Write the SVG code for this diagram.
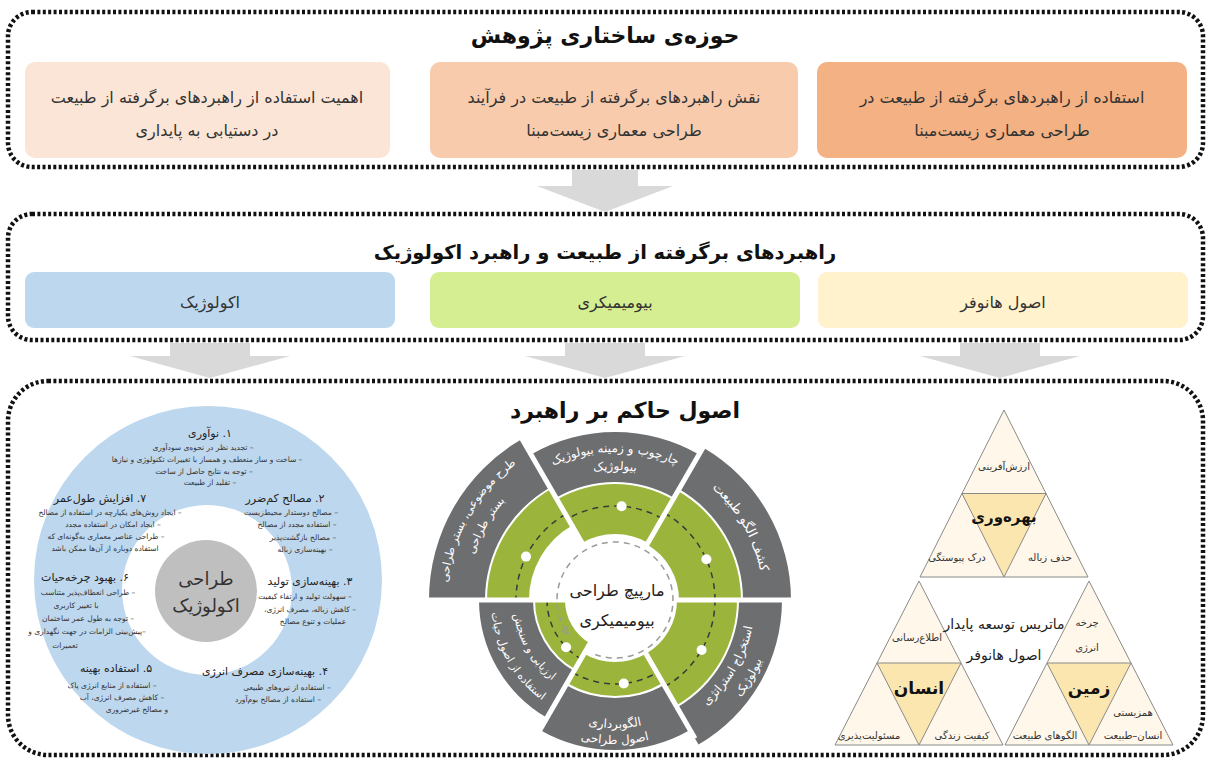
<svg xmlns="http://www.w3.org/2000/svg" width="1209" height="762" viewBox="0 0 1209 762">
<style>
text{font-family:"DejaVu Sans","Noto Sans",sans-serif;direction:rtl;text-anchor:middle;fill:#262626}
.ttl{font-size:22px;font-weight:bold;fill:#111}
.bx{font-size:16px;fill:#333}
.frame{fill:none;stroke:#111;stroke-width:4.5;stroke-dasharray:3 2.4}
.arr{fill:#d9d9d9}
.h{font-size:11px;fill:#222}
.s{font-size:7.5px;fill:#333}
.g{fill:#6d6e70}
.gr{fill:#9bb53c}
.sep{stroke:#fff;stroke-width:5}
.lab{font-size:12px;fill:#fff}
.tri{fill:#fef7ea;stroke:#8a8a8a;stroke-width:1}
.inv{fill:#fce6b0;stroke:#8a8a8a;stroke-width:1}
.tt{font-size:10px;fill:#333}
.tb{font-size:17px;font-weight:bold;fill:#111}
.ctr{font-size:16px;fill:#222}
</style>
<defs>
<marker id="ah" viewBox="0 0 10 10" refX="8" refY="5" markerWidth="6" markerHeight="6" orient="auto"><path d="M1,1 L9,5 L1,9" fill="none" stroke="#9a9a9a" stroke-width="1.5"/></marker>
<path id="pUL1" d="M447,600 A168,168 0 0 1 531,454.5"/>
<path id="pUL2" d="M467,600 A148,148 0 0 1 541,471.8"/>
<path id="pT1" d="M541,471.8 A148,148 0 0 1 689,471.8"/>
<path id="pT2" d="M550,487.4 A130,130 0 0 1 680,487.4"/>
<path id="pUR" d="M689,471.8 A148,148 0 0 1 763,600"/>
<path id="pLR1" d="M685,721.2 A140,140 0 0 0 755,600"/>
<path id="pLR2" d="M694.5,737.7 A159,159 0 0 0 774,600"/>
<path id="pB1" d="M551,710.9 A128,128 0 0 0 679,710.9"/>
<path id="pB2" d="M543,724.7 A144,144 0 0 0 687,724.7"/>
<path id="pLL1" d="M513,600 A102,102 0 0 0 564,688.3"/>
<path id="pLL2" d="M491,600 A124,124 0 0 0 553,707.4"/>
</defs>
<rect width="1209" height="762" fill="#fff"/>

<g id="frame-research">
<rect class="frame" x="8" y="12" width="1195" height="155" rx="24"/>
<text class="ttl" x="605" y="43">حوزه‌ی ساختاری پژوهش</text>
</g>
<g id="box-importance">
<rect x="25" y="62" width="365" height="96" rx="10" fill="#fbe5d6"/>
<text class="bx" x="207" y="103">اهمیت استفاده از راهبردهای برگرفته از طبیعت</text>
<text class="bx" x="207" y="136">در دستیابی به پایداری</text>
</g>
<g id="box-role">
<rect x="430" y="62" width="368" height="96" rx="10" fill="#f8cbad"/>
<text class="bx" x="614" y="103">نقش راهبردهای برگرفته از طبیعت در فرآیند</text>
<text class="bx" x="614" y="136">طراحی معماری زیست‌مبنا</text>
</g>
<g id="box-use">
<rect x="817" y="62" width="370" height="96" rx="10" fill="#f4b183"/>
<text class="bx" x="1002" y="103">استفاده از راهبردهای برگرفته از طبیعت در</text>
<text class="bx" x="1002" y="136">طراحی معماری زیست‌مبنا</text>
</g>

<g id="frame-strategies">
<rect class="frame" x="8" y="214" width="1195" height="126" rx="24"/>
<text class="ttl" x="605" y="259" style="font-size:19.5px">راهبردهای برگرفته از طبیعت و راهبرد اکولوژیک</text>
</g>
<g id="box-ecologic">
<rect x="25" y="272" width="370" height="56" rx="9" fill="#bdd7ee"/>
<text class="bx" x="210" y="308">اکولوژیک</text>
</g>
<g id="box-biomimicry">
<rect x="430" y="272" width="370" height="56" rx="9" fill="#d5ee91"/>
<text class="bx" x="615" y="308">بیومیمیکری</text>
</g>
<g id="box-hannover">
<rect x="818" y="272" width="370" height="56" rx="9" fill="#fff2cc"/>
<text class="bx" x="1003" y="308">اصول هانوفر</text>
</g>

<g id="connectors">
<polygon class="arr" points="572,170 638,170 638,186 673,186 605,212 537,186 572,186"/>
<polygon class="arr" points="170,343 250,343 250,356 290,356 210,378 130,356 170,356"/>
<polygon class="arr" points="565,343 645,343 645,356 685,356 605,378 525,356 565,356"/>
<polygon class="arr" points="960,343 1040,343 1040,356 1080,356 1000,378 920,356 960,356"/>
</g>

<g id="frame-principles">
<rect class="frame" x="8" y="381" width="1195" height="374" rx="40"/>
<text class="ttl" x="625" y="418">اصول حاکم بر راهبرد</text>
</g>

<g id="ecologic-wheel">
<circle cx="208" cy="580" r="174" fill="#bdd7ee"/>
<circle cx="207" cy="590" r="85" fill="#fff"/>
<circle cx="206" cy="591" r="51" fill="#bfbfbf"/>
<text x="206" y="585" style="font-size:18px;fill:#333">طراحی</text>
<text x="206" y="612" style="font-size:18px;fill:#333">اکولوژیک</text>

<text class="h" x="210" y="437">۱. نوآوری</text>
<text class="s" x="203" y="450">– تجدید نظر در نحوه‌ی سودآوری</text>
<text class="s" x="207" y="462">– ساخت و ساز منعطف و همساز با تغییرات تکنولوژی و نیازها</text>
<text class="s" x="204" y="474">– توجه به نتایج حاصل از ساخت</text>
<text class="s" x="210" y="485">– تقلید از طبیعت</text>

<text class="h" x="285" y="502">۲. مصالح کم‌ضرر</text>
<text class="s" x="291" y="515">– مصالح دوستدار محیط‌زیست</text>
<text class="s" x="297" y="527">– استفاده مجدد از مصالح</text>
<text class="s" x="303" y="540">– مصالح بازگشت‌پذیر</text>
<text class="s" x="305" y="552">– بهینه‌سازی زباله</text>

<text class="h" x="310" y="585">۳. بهینه‌سازی تولید</text>
<text class="s" x="305" y="599">– سهولت تولید و ارتقاء کیفیت</text>
<text class="s" x="310" y="612">– کاهش زباله، مصرف انرژی،</text>
<text class="s" x="313" y="624">عملیات و تنوع مصالح</text>

<text class="h" x="265" y="675">۴. بهینه‌سازی مصرف انرژی</text>
<text class="s" x="287" y="690">– استفاده از نیروهای طبیعی</text>
<text class="s" x="278" y="702">– استفاده از مصالح بوم‌آورد</text>

<text class="h" x="116" y="672">۵. استفاده بهینه</text>
<text class="s" x="112" y="688">– استفاده از منابع انرژی پاک</text>
<text class="s" x="122" y="700">– کاهش مصرف انرژی، آب</text>
<text class="s" x="137" y="712">و مصالح غیرضروری</text>

<text class="h" x="85" y="581">۶. بهبود چرخه‌حیات</text>
<text class="s" x="88" y="595">– طراحی انعطاف‌پذیر متناسب</text>
<text class="s" x="76" y="608">با تغییر کاربری</text>
<text class="s" x="88" y="621">– توجه به طول عمر ساختمان</text>
<text class="s" x="87" y="634">–پیش‌بینی الزامات در جهت نگهداری و</text>
<text class="s" x="65" y="648">تعمیرات</text>

<text class="h" x="100" y="502">۷. افزایش طول‌عمر</text>
<text class="s" x="110" y="515">– ایجاد روش‌های یکپارچه در استفاده از مصالح</text>
<text class="s" x="113" y="527">– ایجاد امکان در استفاده  مجدد</text>
<text class="s" x="106" y="539">– طراحی عناصر معماری به‌گونه‌ای که</text>
<text class="s" x="105" y="551">استفاده دوباره از آن‌ها ممکن باشد</text>
</g>

<g id="biomimicry-spiral">
<path class="g" d="M522,438.9 A186,186 0 0 0 429,600 L485,600 A130,130 0 0 1 550,487.4 Z"/>
<path class="g" d="M699,454.5 A168,168 0 0 0 531,454.5 L556,497.8 A118,118 0 0 1 674,497.8 Z"/>
<path class="g" d="M791,600 A176,176 0 0 0 703,447.6 L679,489.1 A128,128 0 0 1 743,600 Z"/>
<path class="g" d="M698.5,744.6 A167,167 0 0 0 782,600 L739,600 A124,124 0 0 1 677,707.4 Z"/>
<path class="g" d="M540,729.9 A150,150 0 0 0 690,729.9 L664,684.9 A98,98 0 0 1 566,684.9 Z"/>
<path class="g" d="M479,600 A136,136 0 0 0 547,717.8 L574,671 A82,82 0 0 1 533,600 Z"/>

<path class="gr" d="M551,489.1 A128,128 0 0 0 487,600 L529,600 A86,86 0 0 1 572,525.5 Z"/>
<path class="gr" d="M673,499.5 A116,116 0 0 0 557,499.5 L582,542.8 A66,66 0 0 1 648,542.8 Z"/>
<path class="gr" d="M741,600 A126,126 0 0 0 678,490.9 L647,544.6 A64,64 0 0 1 679,600 Z"/>
<path class="gr" d="M676,705.7 A122,122 0 0 0 737,600 L677,600 A62,62 0 0 1 646,653.7 Z"/>
<path class="gr" d="M567,683.1 A96,96 0 0 0 663,683.1 L646,653.7 A62,62 0 0 1 584,653.7 Z"/>
<path class="gr" d="M535,600 A80,80 0 0 0 575,669.3 L590,643.3 A50,50 0 0 1 565,600 Z"/>

<g fill="none" stroke="#3a3a3a" stroke-width="1.5" stroke-dasharray="6 5">
<path d="M565.5,514.3 A99,99 0 0 0 516,600"/>
<path d="M662,518.6 A94,94 0 0 0 568,518.6"/>
<path d="M715,600 A100,100 0 0 0 665,513.4"/>
<path d="M665,686.6 A100,100 0 0 0 715,600"/>
<path d="M573,672.7 A84,84 0 0 0 657,672.7"/>
<path d="M547,600 A68,68 0 0 0 581,658.9"/>
</g>
<g fill="#fff">
<circle cx="526" cy="556.6" r="5"/>
<circle cx="621.6" cy="506.2" r="5"/>
<circle cx="706.4" cy="559.3" r="5"/>
<circle cx="701.6" cy="650" r="5"/>
<circle cx="623.8" cy="683.5" r="5"/>
<circle cx="566.1" cy="647.2" r="5"/>
</g>
<g class="sep">
<line x1="660" y1="600" x2="800" y2="600"/>
<line x1="637.5" y1="561" x2="711" y2="433.7"/>
<line x1="592.5" y1="561" x2="519" y2="433.7"/>
<line x1="570" y1="600" x2="420" y2="600"/>
<line x1="592.5" y1="639" x2="535" y2="738.6"/>
<line x1="637.5" y1="639" x2="695" y2="738.6"/>
</g>
<path d="M595.2,654.5 A58,58 0 1 0 567.5,633.3" fill="none" stroke="#9a9a9a" stroke-width="1.5" stroke-dasharray="6 5" marker-end="url(#ah)"/>

<text class="lab" style="font-size:11.5px"><textPath href="#pUL1" startOffset="50%">طرح موضوعی، بستر طراحی</textPath></text>
<text class="lab" style="font-size:11.5px"><textPath href="#pUL2" startOffset="50%">بستر طراحی</textPath></text>
<text class="lab"><textPath href="#pT1" startOffset="50%">چارچوب و زمینه بیولوژیک</textPath></text>
<text class="lab"><textPath href="#pT2" startOffset="50%">بیولوژیک</textPath></text>
<text class="lab" style="font-size:13px"><textPath href="#pUR" startOffset="50%">کشف الگو طبیعت</textPath></text>
<text class="lab"><textPath href="#pLR1" startOffset="50%">استخراج استراتژی</textPath></text>
<text class="lab"><textPath href="#pLR2" startOffset="50%">بیولوژیک</textPath></text>
<text class="lab"><textPath href="#pB1" startOffset="50%">الگوبرداری</textPath></text>
<text class="lab"><textPath href="#pB2" startOffset="50%">اصول طراحی</textPath></text>
<text class="lab" style="font-size:11px"><textPath href="#pLL1" startOffset="50%">ارزیابی و سنجش</textPath></text>
<text class="lab" style="font-size:11px"><textPath href="#pLL2" startOffset="50%">استفاده از اصول حیات</textPath></text>

<text class="ctr" x="617" y="596">مارپیچ طراحی</text>
<text class="ctr" x="617" y="626">بیومیمیکری</text>
</g>

<g id="hannover-matrix">
<g id="tri-productivity">
<polygon class="tri" points="1004,410 1088,577 920,577"/>
<polygon class="inv" points="962,493.5 1046,493.5 1004,577"/>
<text class="tt" x="1004" y="470">ارزش‌آفرینی</text>
<text class="tt" x="957" y="561">درک پیوستگی</text>
<text class="tt" x="1050" y="561">حذف زباله</text>
<text class="tb" x="1004" y="522" style="font-size:15px">بهره‌وری</text>
</g>
<g id="tri-human">
<polygon class="tri" points="919,581 1003,745 835,745"/>
<polygon class="inv" points="877,663 961,663 919,745"/>
<text class="tt" x="917" y="641">اطلاع‌رسانی</text>
<text class="tt" x="869" y="739">مسئولیت‌پذیری</text>
<text class="tt" x="962" y="739">کیفیت زندگی</text>
<text class="tb" x="919" y="694">انسان</text>
</g>
<g id="tri-earth">
<polygon class="tri" points="1089,581 1173,745 1005,745"/>
<polygon class="inv" points="1047,663 1131,663 1089,745"/>
<text class="tt" x="1087" y="626">چرخه</text>
<text class="tt" x="1087" y="651">انرژی</text>
<text class="tt" x="1045" y="739">الگوهای طبیعت</text>
<text class="tt" x="1133" y="716">همزیستی</text>
<text class="tt" x="1133" y="739">انسان–طبیعت</text>
<text class="tb" x="1089" y="694">زمین</text>
</g>
<g id="matrix-center">
<text class="ctr" x="1004" y="629" style="font-size:14px">ماتریس توسعه پایدار</text>
<text class="ctr" x="1004" y="660" style="font-size:14px">اصول هانوفر</text>
</g>
</g>
</svg>
